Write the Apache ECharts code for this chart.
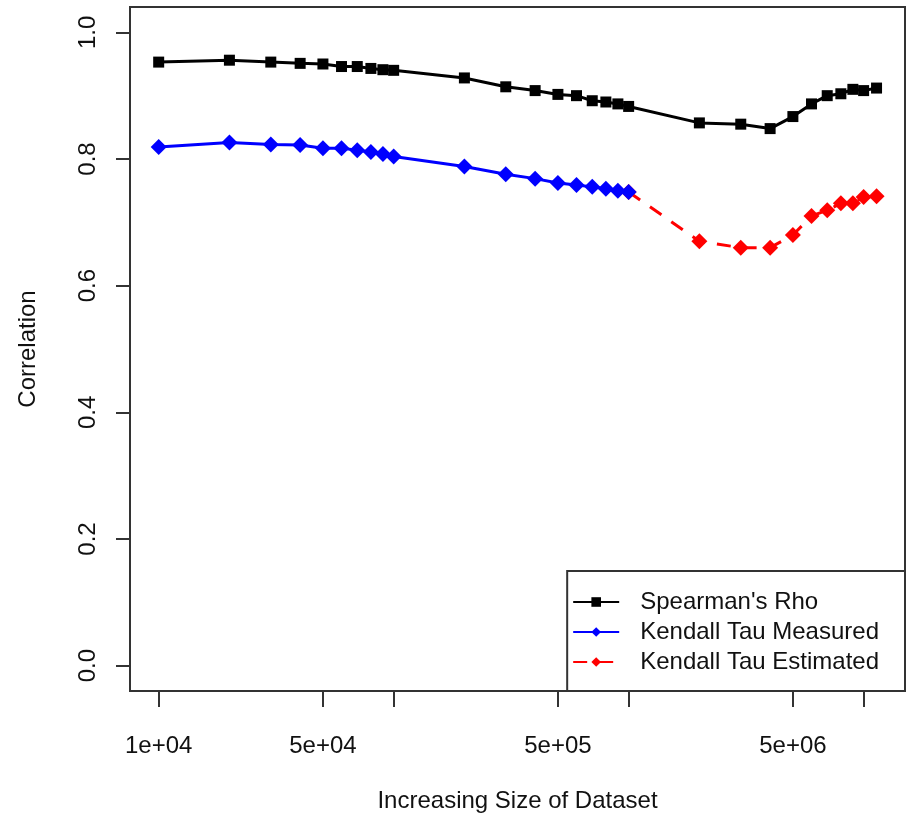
<!DOCTYPE html>
<html>
<head>
<meta charset="utf-8">
<script src="https://cdn.jsdelivr.net/npm/echarts@6/dist/echarts.min.js"></script>
<style>
    html, body { margin: 0; padding: 0; background: #fff; }
    #chart { width: 911px; height: 815px; }
</style>
</head>
<body>
<div id="chart"></div>
<script>
// dataset sizes (x, log axis)
const sizes = [
    1e4, 2e4, 3e4, 4e4, 5e4, 6e4, 7e4, 8e4, 9e4, 1e5,
    2e5, 3e5, 4e5, 5e5, 6e5, 7e5, 8e5, 9e5, 1e6,
    2e6, 3e6, 4e6, 5e6, 6e6, 7e6, 8e6, 9e6, 1e7, 1.135e7,
];
// Spearman's Rho, all sizes
const spearman = [
    0.953, 0.956, 0.953, 0.951, 0.950, 0.946, 0.946, 0.943, 0.941, 0.940,
    0.928, 0.914, 0.908, 0.902, 0.900, 0.892, 0.890, 0.887, 0.883,
    0.857, 0.855, 0.848, 0.867, 0.887, 0.900, 0.903, 0.910, 0.908, 0.912,
];
// Kendall Tau measured, 1e4 .. 1e6
const kendallMeasured = [
    0.819, 0.826, 0.823, 0.822, 0.817, 0.817, 0.814, 0.811, 0.808, 0.804,
    0.788, 0.776, 0.769, 0.762, 0.759, 0.756, 0.753, 0.750, 0.748,
];
// Kendall Tau estimated, 1e6 .. end
const kendallEstimated = [
    0.748, 0.670, 0.660, 0.660, 0.680, 0.710, 0.719, 0.730, 0.730, 0.740, 0.741,
];
const estimatedStart = 18;

const xTicks = [1e4, 5e4, 1e5, 5e5, 1e6, 5e6, 1e7];
const xLabels = [1e4, 5e4, 5e5, 5e6];
const yTicks = [0, 0.2, 0.4, 0.6, 0.8, 1.0];

const font = 'Liberation Sans';

// R style: 1e+04
function sci(v) {
    const e = Math.floor(Math.log10(v) + 1e-9);
    const m = Math.round(v / Math.pow(10, e));
    return `${ m }e+${ String(e).padStart(2, '0') }`;
}

const pairs = (xs, ys) => ys.map((y, i) => [xs[i], y]);

const chart = echarts.init(document.querySelector('#chart'), null, { renderer: 'canvas' });
chart.setOption({
    animation: false,
    grid: {
        left: 130,
        right: 6,
        top: 7,
        bottom: 124,
        outerBoundsMode: 'none',
        containLabel: false,
        show: true,
        borderColor: '#333',
        borderWidth: 2,
        backgroundColor: 'transparent',
    },
    legend: {
        orient: 'vertical',
        right: 6,
        bottom: 124,
        padding: [19, 26, 17, 5],
        itemWidth: 46,
        itemHeight: 12,
        itemGap: 6,
        borderColor: '#333',
        borderWidth: 2,
        backgroundColor: '#fff',
        lineStyle: { width: 2 },
        textStyle: {
            fontFamily: font,
            fontSize: 24,
            lineHeight: 24,
            color: '#111',
            padding: [0, 0, 0, 16],
        },
        data: ['Spearman\'s Rho', 'Kendall Tau Measured', 'Kendall Tau Estimated'],
    },
    xAxis: {
        type: 'log',
        logBase: 10,
        min: 7550,
        max: 1.5e7,
        name: 'Increasing Size of Dataset',
        nameLocation: 'middle',
        nameGap: 98,
        nameTextStyle: { fontFamily: font, fontSize: 24, color: '#111' },
        axisLine: { show: false, onZero: false },
        splitLine: { show: false },
        minorTick: { show: false },
        axisTick: {
            customValues: xTicks,
            length: 16,
            lineStyle: { color: '#333', width: 2 },
        },
        axisLabel: {
            customValues: xLabels,
            margin: 43,
            fontFamily: font,
            fontSize: 24,
            color: '#111',
            formatter: sci,
        },
    },
    yAxis: {
        type: 'value',
        min: -0.04,
        max: 1.04,
        name: 'Correlation',
        nameLocation: 'middle',
        nameRotate: 90,
        nameGap: 90,
        nameTextStyle: { fontFamily: font, fontSize: 24, color: '#111' },
        axisLine: { show: false, onZero: false },
        splitLine: { show: false },
        axisTick: {
            customValues: yTicks,
            length: 14,
            lineStyle: { color: '#333', width: 2 },
        },
        axisLabel: {
            customValues: yTicks,
            rotate: 90,
            margin: 30,
            fontFamily: font,
            fontSize: 24,
            color: '#111',
            formatter: v => v.toFixed(1),
        },
    },
    series: [
        {
            name: 'Spearman\'s Rho',
            type: 'line',
            data: pairs(sizes, spearman),
            symbol: 'rect',
            symbolSize: 11,
            itemStyle: { color: '#000' },
            lineStyle: { color: '#000', width: 3 },
            z: 3,
        },
        {
            name: 'Kendall Tau Estimated',
            type: 'line',
            data: pairs(sizes.slice(estimatedStart), kendallEstimated),
            symbol: 'diamond',
            symbolSize: 16,
            itemStyle: { color: '#ff0000' },
            lineStyle: { color: '#ff0000', width: 3, type: [14, 12] },
            z: 2,
        },
        {
            name: 'Kendall Tau Measured',
            type: 'line',
            data: pairs(sizes, kendallMeasured),
            symbol: 'diamond',
            symbolSize: 16,
            itemStyle: { color: '#0000ff' },
            lineStyle: { color: '#0000ff', width: 3 },
            z: 4,
        },
    ],
});
</script>
</body>
</html>
